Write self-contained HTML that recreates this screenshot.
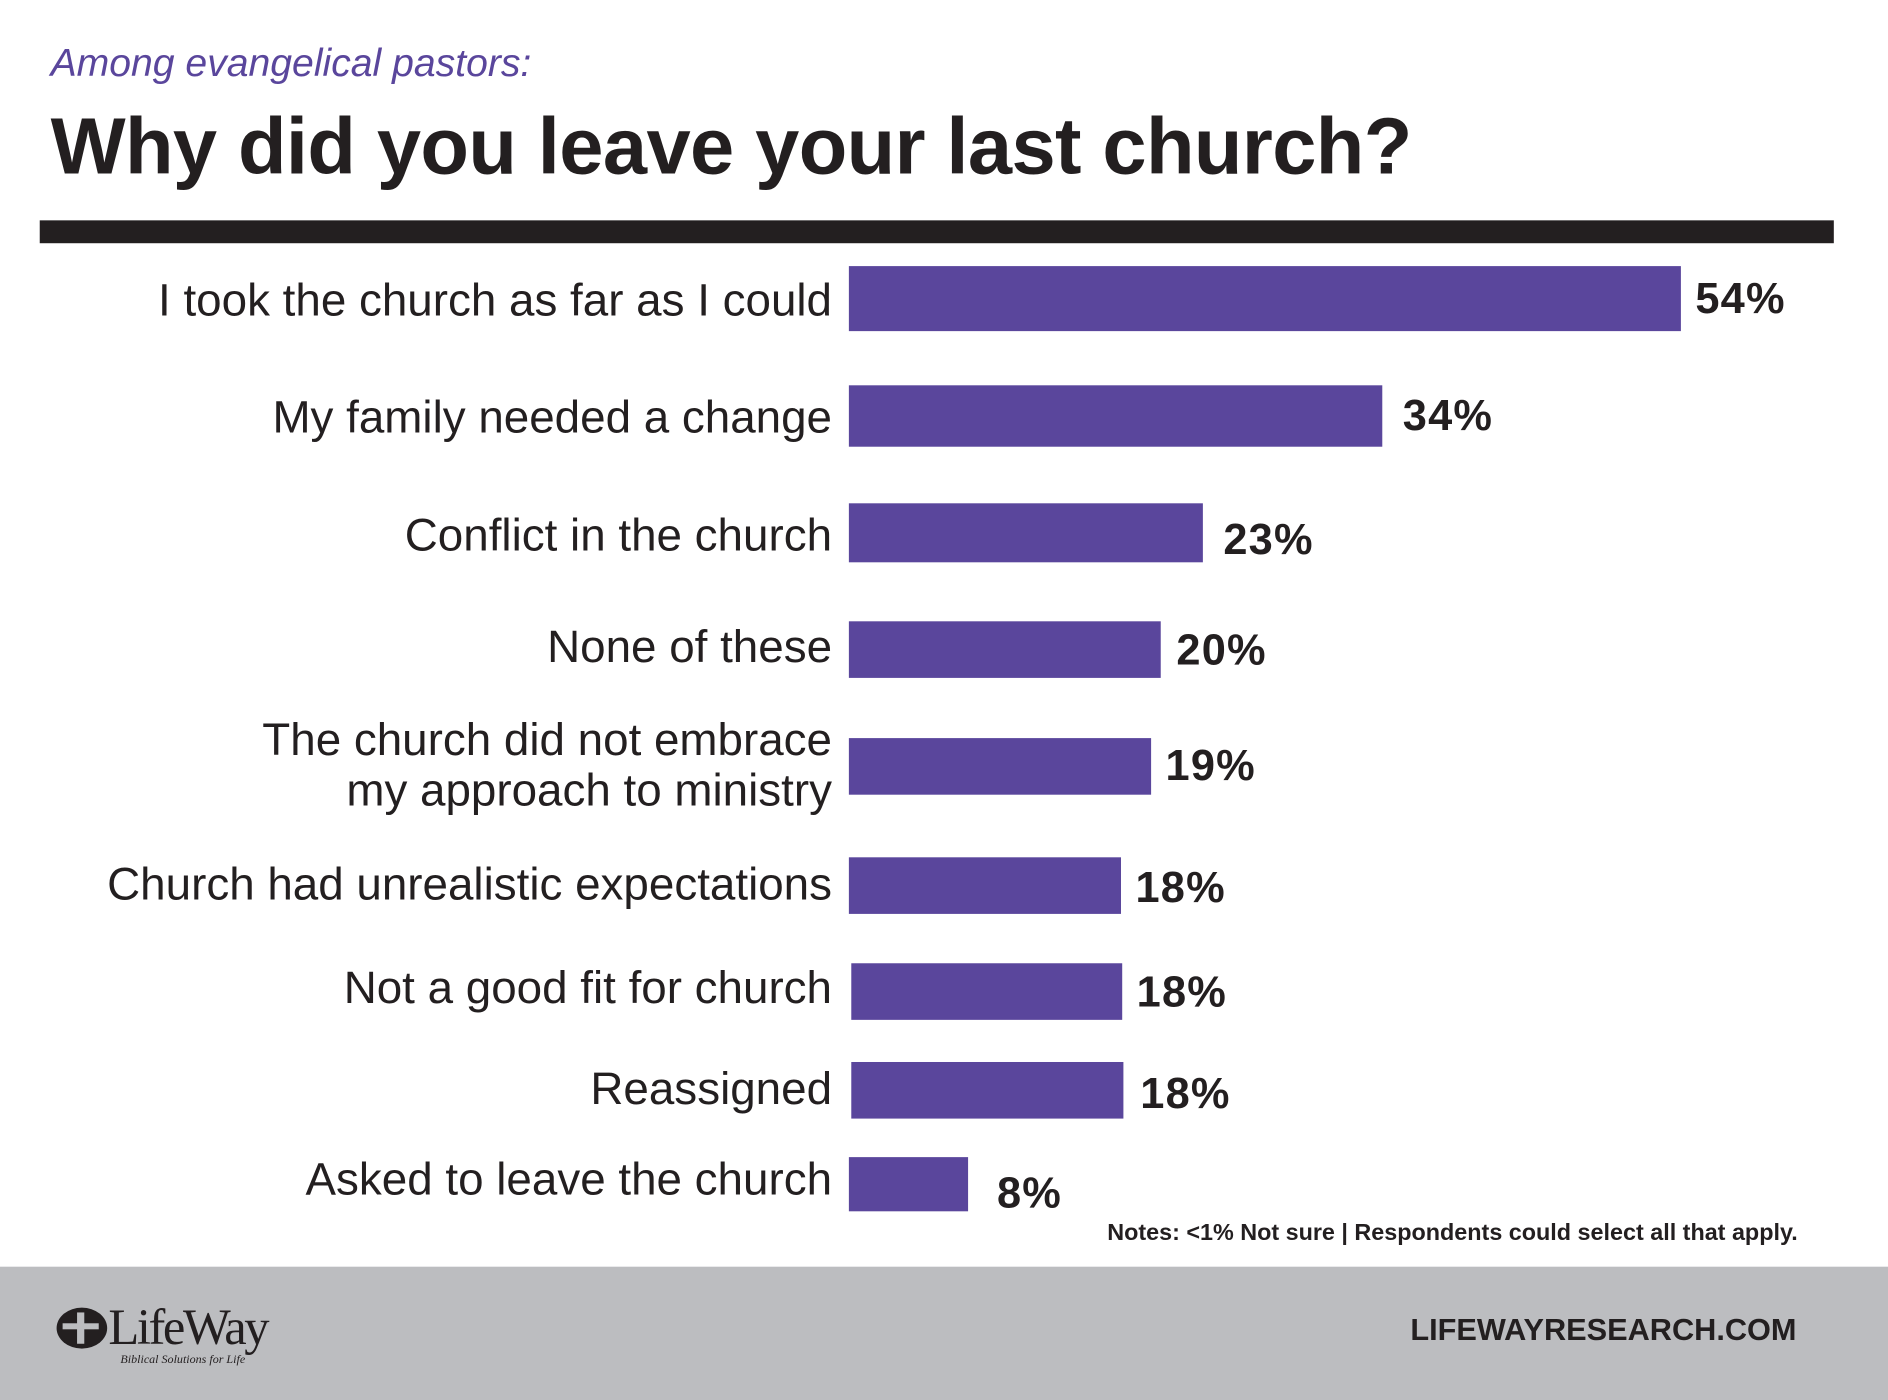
<!DOCTYPE html>
<html><head><meta charset="utf-8"><style>
html,body{margin:0;padding:0;background:#fff;width:1888px;height:1400px;overflow:hidden}
#c{position:absolute;left:0;top:0;width:1568px;height:1163px;transform:scale(1.20408);transform-origin:0 0;font-family:"Liberation Sans",sans-serif;}
.a{position:absolute}
.bar{position:absolute;background:#5a469c}
.lab{position:absolute;right:877px;font-size:38px;color:#231f20;text-align:right;line-height:42px;white-space:nowrap}
.val{position:absolute;font-size:36px;font-weight:bold;color:#231f20;line-height:40px;letter-spacing:1px}
</style></head><body><div id="c">
<div class="a" style="left:42px;top:34px;font-size:32.5px;font-style:italic;color:#5a469c">Among evangelical pastors:</div>
<div class="a" style="left:42px;top:83px;font-size:66px;font-weight:bold;color:#231f20;letter-spacing:-0.5px">Why did you leave your last church?</div>
<div class="a" style="left:33px;top:183px;width:1490px;height:19px;background:#231f20"></div>

<div class="lab" style="top:229px">I took the church as far as I could</div>
<div class="bar" style="left:705px;top:221px;width:691px;height:54px"></div>
<div class="val" style="left:1408px;top:228px">54%</div>

<div class="lab" style="top:326px">My family needed a change</div>
<div class="bar" style="left:705px;top:320px;width:443px;height:51px"></div>
<div class="val" style="left:1165px;top:325px">34%</div>

<div class="lab" style="top:424px">Conflict in the church</div>
<div class="bar" style="left:705px;top:418px;width:294px;height:49px"></div>
<div class="val" style="left:1016px;top:428px">23%</div>

<div class="lab" style="top:517px">None of these</div>
<div class="bar" style="left:705px;top:516px;width:259px;height:47px"></div>
<div class="val" style="left:977px;top:520px">20%</div>

<div class="lab" style="top:594px">The church did not embrace<br>my approach to ministry</div>
<div class="bar" style="left:705px;top:613px;width:251px;height:47px"></div>
<div class="val" style="left:968px;top:616px">19%</div>

<div class="lab" style="top:714px">Church had unrealistic expectations</div>
<div class="bar" style="left:705px;top:712px;width:226px;height:47px"></div>
<div class="val" style="left:943px;top:717px">18%</div>

<div class="lab" style="top:800px">Not a good fit for church</div>
<div class="bar" style="left:707px;top:800px;width:225px;height:47px"></div>
<div class="val" style="left:944px;top:804px">18%</div>

<div class="lab" style="top:884px">Reassigned</div>
<div class="bar" style="left:707px;top:882px;width:226px;height:47px"></div>
<div class="val" style="left:947px;top:888px">18%</div>

<div class="lab" style="top:959px">Asked to leave the church</div>
<div class="bar" style="left:705px;top:961px;width:99px;height:45px"></div>
<div class="val" style="left:828px;top:971px">8%</div>

<div class="a" style="right:75px;top:1013px;font-size:19.4px;font-weight:bold;color:#231f20">Notes: &lt;1% Not sure | Respondents could select all that apply.</div>

<div class="a" style="left:0;top:1052px;width:1568px;height:111px;background:#bcbdc0"></div>
<div class="a" style="left:47px;top:1086px;width:42px;height:34px;border-radius:50%;background:#231f20"></div>
<div class="a" style="left:64px;top:1090px;width:6px;height:26px;background:#bcbdc0"></div>
<div class="a" style="left:52px;top:1099px;width:30px;height:5px;background:#bcbdc0"></div>
<div class="a" style="left:90px;top:1079px;font-family:'Liberation Serif',serif;font-size:42px;color:#231f20;letter-spacing:-2px">LifeWay</div>
<div class="a" style="left:100px;top:1124px;font-family:'Liberation Serif',serif;font-style:italic;font-size:10px;color:#231f20">Biblical Solutions for Life</div>
<div class="a" style="right:76px;top:1091px;font-size:25.5px;font-weight:bold;color:#231f20">LIFEWAYRESEARCH.COM</div>
</div></body></html>
